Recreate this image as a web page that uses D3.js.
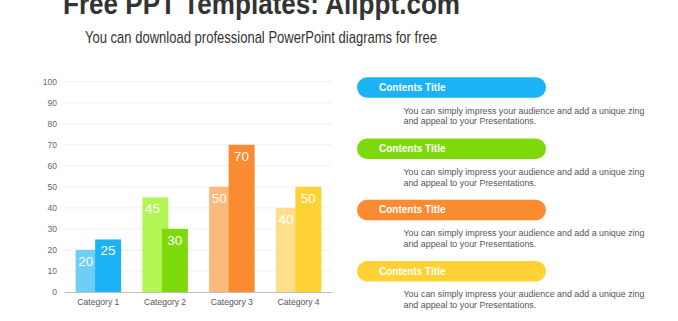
<!DOCTYPE html>
<html>
<head>
<meta charset="utf-8">
<script src="https://cdn.jsdelivr.net/npm/d3@7"></script>
<style>
  html, body { margin: 0; padding: 0; background: #fff; }
  svg { display: block; font-family: "Liberation Sans", Arial, sans-serif; }
</style>
</head>
<body>
<svg id="chart" width="678" height="321"></svg>
<script>
// chart data
const categories = ["Category 1", "Category 2", "Category 3", "Category 4"];
const seriesA = [20, 45, 50, 40];   // light bars (behind)
const seriesB = [25, 30, 70, 50];   // dark bars (front)
const lightColors = ["#6dcff8", "#b3f554", "#fdb97b", "#fee08b"];
const darkColors = ["#1bb3f5", "#7ed90b", "#fb8b31", "#fed234"];
const yTicks = [0, 10, 20, 30, 40, 50, 60, 70, 80, 90, 100];

// right-hand list
const itemTitles = ["Contents Title", "Contents Title", "Contents Title", "Contents Title"];
const itemColors = ["#1bb3f5", "#7ed90b", "#fb8b31", "#fed234"];
const itemLines = ["You can simply impress your audience and add a unique zing",
                   "and appeal to your Presentations."];

const svg = d3.select("#chart");

// Header
svg.append("text")
  .attr("x", 261.5).attr("y", 13.5)
  .attr("text-anchor", "middle")
  .attr("textLength", 397).attr("lengthAdjust", "spacingAndGlyphs")
  .style("font-size", "30px").style("font-weight", "bold").style("fill", "#333")
  .text("Free PPT Templates: Allppt.com");

svg.append("text")
  .attr("x", 261).attr("y", 43)
  .attr("text-anchor", "middle")
  .attr("textLength", 352).attr("lengthAdjust", "spacingAndGlyphs")
  .style("font-size", "17px").style("fill", "#333")
  .text("You can download professional PowerPoint diagrams for free");

// Scales
const x = d3.scaleBand().domain(categories).range([65, 332]).paddingInner(0.318).paddingOuter(0.159);
const y = d3.scaleLinear().domain([0, 100]).range([292, 81.7]);
const barW = x.bandwidth() * 0.571;
const shift = x.bandwidth() - barW;

// Grid lines
svg.append("g")
  .selectAll("line")
  .data(yTicks.slice(1))
  .enter().append("line")
  .attr("x1", 63).attr("x2", 332)
  .attr("y1", d => y(d)).attr("y2", d => y(d))
  .style("stroke", "#f0f0f0").style("stroke-width", 1);

// Y axis labels
svg.append("g")
  .selectAll("text")
  .data(yTicks)
  .enter().append("text")
  .attr("x", 57).attr("y", d => y(d) + 3)
  .attr("text-anchor", "end")
  .style("font-size", "8.5px").style("fill", "#666")
  .text(d => d);

// Bars
const groups = svg.append("g")
  .selectAll("g")
  .data(categories)
  .enter().append("g")
  .attr("transform", d => `translate(${x(d)},0)`);

groups.append("rect")
  .attr("x", 0).attr("width", barW)
  .attr("y", (d, i) => y(seriesA[i]))
  .attr("height", (d, i) => y(0) - y(seriesA[i]))
  .style("fill", (d, i) => lightColors[i]);

groups.append("rect")
  .attr("x", shift).attr("width", barW)
  .attr("y", (d, i) => y(seriesB[i]))
  .attr("height", (d, i) => y(0) - y(seriesB[i]))
  .style("fill", (d, i) => darkColors[i]);

groups.append("text")
  .attr("x", shift / 2 + 0.5)
  .attr("y", (d, i) => y(seriesA[i]) + 16)
  .attr("text-anchor", "middle")
  .style("font-size", "13.5px").style("fill", "#fff")
  .text((d, i) => seriesA[i]);

groups.append("text")
  .attr("x", shift + barW / 2)
  .attr("y", (d, i) => y(seriesB[i]) + 16)
  .attr("text-anchor", "middle")
  .style("font-size", "13.5px").style("fill", "#fff")
  .text((d, i) => seriesB[i]);

// Baseline
svg.append("line")
  .attr("x1", 65).attr("x2", 332)
  .attr("y1", y(0) + 0.5).attr("y2", y(0) + 0.5)
  .style("stroke", "#bfbfbf").style("stroke-width", 1);

// Category labels
svg.append("g")
  .selectAll("text")
  .data(categories)
  .enter().append("text")
  .attr("x", d => x(d) + x.bandwidth() / 2)
  .attr("y", 305)
  .attr("text-anchor", "middle")
  .style("font-size", "8.6px").style("fill", "#555")
  .text(d => d);

// Right-hand list
const items = svg.append("g")
  .selectAll("g")
  .data(itemTitles)
  .enter().append("g")
  .attr("transform", (d, i) => `translate(357, ${77.3 + i * 61.2})`);

items.append("rect")
  .attr("width", 189).attr("height", 20.5)
  .attr("rx", 10.25).attr("ry", 10.25)
  .style("fill", (d, i) => itemColors[i]);

items.append("text")
  .attr("x", 22).attr("y", 13.8)
  .style("font-size", "10px").style("font-weight", "bold").style("fill", "#fff")
  .text(d => d);

items.each(function () {
  const g = d3.select(this);
  itemLines.forEach((line, j) => {
    g.append("text")
      .attr("x", 46.5).attr("y", 36.5 + j * 10.5)
      .style("font-size", "8.9px").style("fill", "#555")
      .text(line);
  });
});
</script>
</body>
</html>
